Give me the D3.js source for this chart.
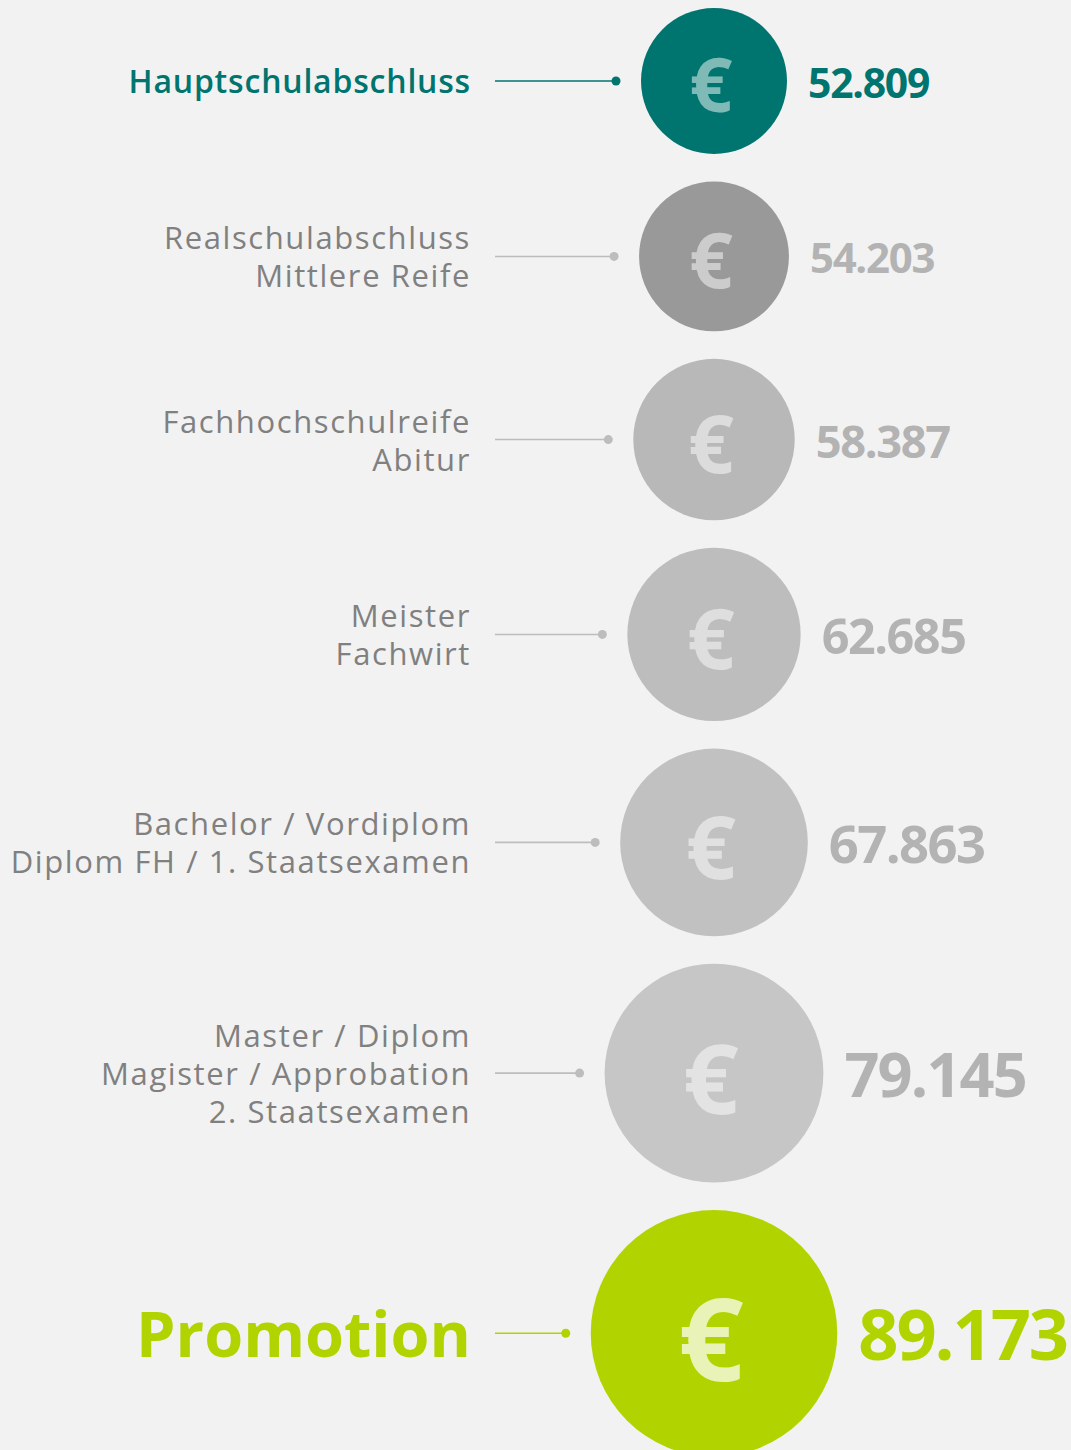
<!DOCTYPE html>
<html><head><meta charset="utf-8">
<script src="https://cdn.jsdelivr.net/npm/d3@7"></script>
<style>html,body{margin:0;padding:0;background:#f2f2f2;} svg{display:block;}</style>
</head><body>
<script>
// ---- data ----
const categories = [
  ["Hauptschulabschluss"],
  ["Realschulabschluss", "Mittlere Reife"],
  ["Fachhochschulreife", "Abitur"],
  ["Meister", "Fachwirt"],
  ["Bachelor / Vordiplom", "Diplom FH / 1. Staatsexamen"],
  ["Master / Diplom", "Magister / Approbation", "2. Staatsexamen"],
  ["Promotion"]
];
const salaries = [52809, 54203, 58387, 62685, 67863, 79145, 89173];
const rowKinds = ["first", "normal", "normal", "normal", "normal", "normal", "highlight"];

// ---- styles ----
const W = 1071, H = 1450;
const circleFills = ["#00756f", "#999999", "#b8b8b8", "#bdbdbd", "#c1c1c1", "#c6c6c6", "#b1d400"];
const kindStyle = {
  first:     {label: "#00756f", weight: 600, size: 32, ls: "0.025em", line: "#00756f", value: "#00756f", euroOp: 0.5, vmul: 1},
  normal:    {label: "#808080", weight: 400, size: 31, ls: "1.6px",   line: "#bdbdbd", value: "#b3b3b3", euroOp: 0.5, vmul: 1},
  highlight: {label: "#b1d400", weight: 700, size: 63, ls: "0",       line: "#b1d400", value: "#b1d400", euroOp: 0.72, vmul: 1.02}
};
const FONT = "'Open Sans', 'Noto Sans', sans-serif";
const de = d3.formatLocale({decimal: ",", thousands: ".", grouping: [3], currency: ["", " €"]});
const fmt = de.format(",d");

const svg = d3.select("body").append("svg").attr("width", W).attr("height", H);
svg.append("rect").attr("width", W).attr("height", H).attr("fill", "#f2f2f2");

const rScale = d3.scaleLinear().domain([0, salaries[0]]).range([0, 73]);
const cx = 714, gap = 27.5, topMargin = 8, labelX = 471, lineX0 = 495;

// vertical positions derived from radii
const cys = [];
salaries.forEach((v, i) => {
  if (i === 0) cys.push(topMargin + rScale(v));
  else cys.push(cys[i - 1] + rScale(salaries[i - 1]) + rScale(v) + gap);
});

const rows = salaries.map((v, i) => ({
  value: v, lines: categories[i], kind: rowKinds[i], fill: circleFills[i],
  r: rScale(v), cy: cys[i], st: kindStyle[rowKinds[i]]
}));

const g = svg.selectAll("g.row").data(rows).join("g").attr("class", "row");

// circles
g.append("circle")
  .attr("cx", cx).attr("cy", d => d.cy).attr("r", d => d.r)
  .attr("fill", d => d.fill);

// euro sign
const euroH = d => (0.45 * d.r + 22) * (d.kind === "highlight" ? 1.08 : 1);
g.append("text")
  .attr("x", cx - 3)
  .attr("y", d => d.cy + 0.05 * d.r + euroH(d) / 2)
  .attr("text-anchor", "middle")
  .attr("font-family", FONT).attr("font-weight", 700)
  .attr("font-size", d => euroH(d) / 0.73)
  .attr("fill", "#ffffff").attr("fill-opacity", d => d.st.euroOp)
  .text("€");

// values
const vSize = d => 0.56 * d.r * d.st.vmul;
g.append("text")
  .attr("x", d => cx + d.r + 21)
  .attr("y", d => d.cy + 2 + 0.357 * vSize(d))
  .attr("font-family", FONT).attr("font-weight", 700)
  .attr("font-size", vSize)
  .attr("letter-spacing", "-0.03em")
  .attr("fill", d => d.st.value)
  .text(d => fmt(d.value));

// leader lines
g.append("line")
  .attr("x1", lineX0).attr("x2", d => cx - d.r - 25)
  .attr("y1", d => d.cy).attr("y2", d => d.cy)
  .attr("stroke", d => d.st.line).attr("stroke-width", 1.6);
g.append("circle")
  .attr("cx", d => cx - d.r - 25).attr("cy", d => d.cy).attr("r", 4.5)
  .attr("fill", d => d.st.line);

// labels
const lh = 38;
g.each(function(d) {
  const n = d.lines.length, fs = d.st.size;
  d3.select(this).selectAll("text.lab").data(d.lines).join("text")
    .attr("class", "lab")
    .attr("x", labelX)
    .attr("y", (t, j) => d.cy + (j - (n - 1) / 2) * lh + 0.357 * fs + 1)
    .attr("text-anchor", "end")
    .attr("font-family", FONT)
    .attr("font-weight", d.st.weight)
    .attr("font-size", fs)
    .attr("letter-spacing", d.st.ls)
    .attr("fill", d.st.label)
    .text(t => t);
});
</script>
</body></html>
